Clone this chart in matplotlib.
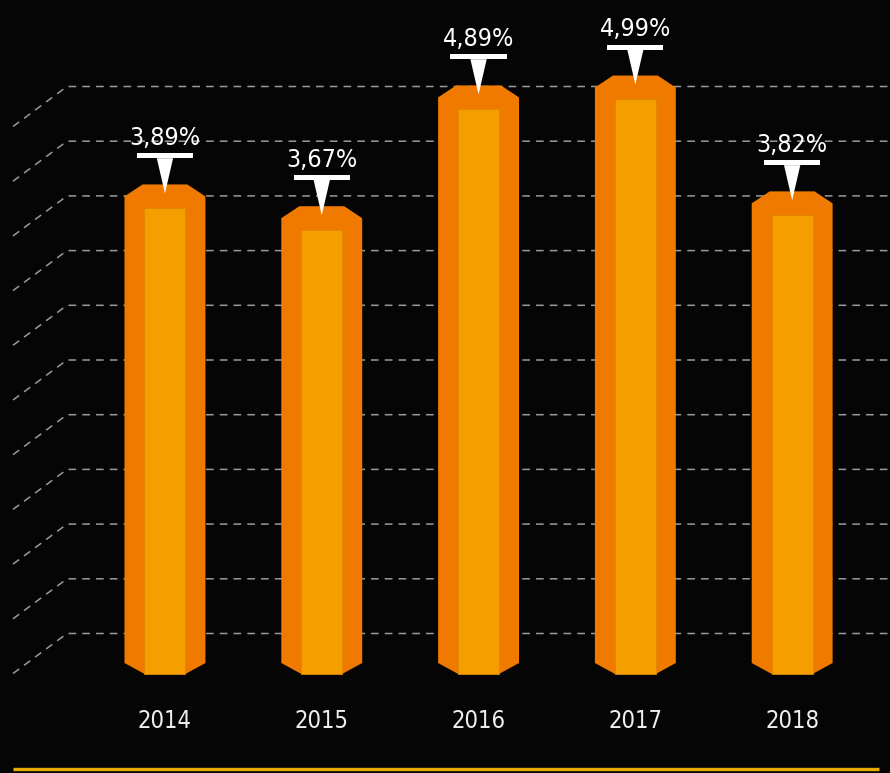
import matplotlib
matplotlib.use("Agg")
import matplotlib.pyplot as plt
from matplotlib.patches import Polygon, Rectangle
from matplotlib import font_manager

years = ["2014", "2015", "2016", "2017", "2018"]
values = [3.89, 3.67, 4.89, 4.99, 3.82]
labels = ["3,89%", "3,67%", "4,89%", "4,99%", "3,82%"]

W, H = 890, 773
BG = "#050505"
OUTER = "#F07A00"
INNER = "#F59E00"
GRID = "#9a9a9a"
GOLD = "#E8AC00"

# look for a narrow face, else condensed DejaVu
names = {f.name for f in font_manager.fontManager.ttflist}
if "Liberation Sans Narrow" in names:
    FONT = dict(family="Liberation Sans Narrow")
else:
    FONT = dict(family="DejaVu Sans", stretch="condensed")

# scale of the infographic (bars start below zero, like the original)
X_LIM = (-1.052, 4.624)
Y_LIM = (-2.055, 5.753)
BASE = -1.055

fig = plt.figure(figsize=(W / 100, H / 100), dpi=100, facecolor=BG)
ax = fig.add_axes([0, 0, 1, 1])
ax.set_facecolor(BG)
ax.set_xlim(*X_LIM)
ax.set_ylim(*Y_LIM)
ax.axis("off")


def fx(px):
    return px / W


def fy(py):
    return 1 - py / H


# dashed perspective grid
for k in range(11):
    py = 86.5 + 54.7 * k
    ax.plot([fx(13), fx(67), fx(W)], [fy(py + 40), fy(py), fy(py)],
            transform=ax.transAxes, color=GRID, lw=1.1,
            dashes=(5, 4), zorder=1)

# bars
hw = 0.258      # half width
cx_top = 0.115  # chamfer x top
cy_top = 0.121
cx_bot = 0.128
cy_bot = 0.111
iw = 0.131      # inner half width
for i, v in enumerate(values):
    outer = [
        (i - hw, BASE + cy_bot), (i - hw + cx_bot, BASE),
        (i + hw - cx_bot, BASE), (i + hw, BASE + cy_bot),
        (i + hw, v - cy_top), (i + hw - cx_top, v),
        (i - hw + cx_top, v), (i - hw, v - cy_top),
    ]
    ax.add_patch(Polygon(outer, closed=True, facecolor=OUTER,
                         edgecolor="none", zorder=2))
    ax.add_patch(Rectangle((i - iw, BASE), 2 * iw, v - 0.242 - BASE,
                           facecolor=INNER, edgecolor="#E08800",
                           lw=0.6, zorder=3))

    # value marker: white bar + pointer
    ax.add_patch(Rectangle((i - 0.179, v + 0.263), 0.358, 0.05,
                           facecolor="white", edgecolor="none", zorder=4))
    ax.add_patch(Polygon([(i - 0.052, v + 0.265), (i + 0.052, v + 0.265),
                          (i, v - 0.091)], closed=True,
                         facecolor="white", edgecolor="none", zorder=4))
    ax.text(i, v + 0.47, labels[i], ha="center", va="center",
            color="white", fontsize=18, zorder=5, **FONT)

    ax.text(i, fy(721) * (Y_LIM[1] - Y_LIM[0]) + Y_LIM[0], years[i],
            ha="center", va="center", color="#eeeeee", fontsize=17,
            zorder=5, **FONT)

# gold rule at the bottom
ax.plot([fx(13), fx(879)], [fy(769), fy(769)], transform=ax.transAxes,
        color=GOLD, lw=2.4, solid_capstyle="butt", zorder=5)

fig.savefig("out.png", dpi=100, facecolor=BG)
